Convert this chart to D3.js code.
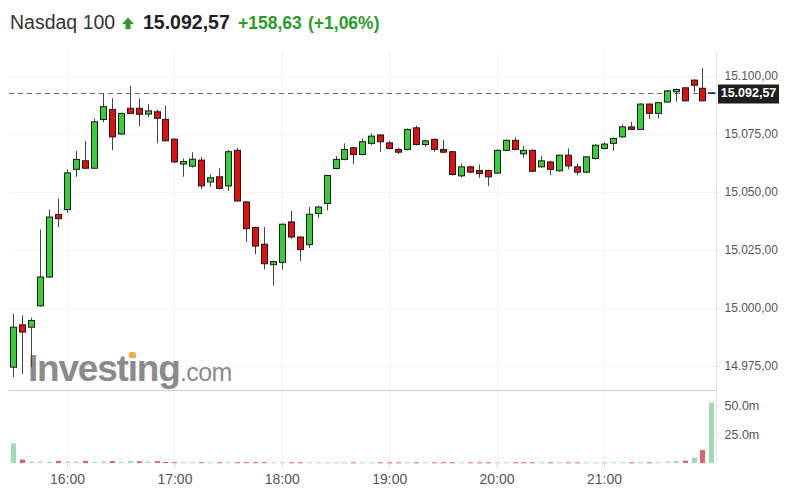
<!DOCTYPE html>
<html><head><meta charset="utf-8">
<script src="https://cdn.jsdelivr.net/npm/d3@7"></script>
<style>body{margin:0;background:#fff;} svg{display:block;font-family:Arial,"Liberation Sans",sans-serif;}</style>
</head><body>
<svg id="c" width="790" height="500"></svg>
<script>
// ---- data ----
const openP  = [14974.5,14992.7,14991.7,15000.9,15013.3,15040.2,15042.3,15059.6,15063.3,15060.1,15081.1,15085.4,15074.8,15085.9,15085.9,15083.4,15084.4,15081.1,15072.6,15061.9,15061.0,15063.6,15054.2,15056.4,15052.5,15067.8,15045.6,15034.6,15027.4,15018.6,15019.6,15037.0,15030.5,15027.2,15040.6,15044.9,15060.0,15063.9,15068.9,15066.0,15070.8,15074.4,15071.0,15068.2,15068.2,15077.5,15070.3,15072.5,15068.2,15067.2,15056.8,15060.7,15059.1,15059.1,15058.0,15067.8,15072.1,15066.3,15067.8,15060.7,15062.8,15059.0,15065.7,15060.7,15058.4,15064.3,15068.6,15070.8,15073.6,15077.9,15076.8,15087.7,15083.7,15088.6,15093.0,15094.7,15098.0,15094.5,15092.57];
const highP  = [14997.5,14996.8,14995.8,15033.7,15042.3,15047.1,15059.6,15067.6,15071.8,15081.5,15092.3,15090.2,15084.0,15095.5,15090.2,15087.6,15085.2,15087.0,15073.0,15064.3,15067.0,15065.0,15057.5,15060.0,15067.9,15068.9,15046.0,15035.0,15034.8,15020.3,15036.4,15041.7,15030.8,15043.4,15044.0,15057.3,15065.3,15070.8,15069.3,15072.9,15075.1,15074.8,15071.9,15068.9,15077.2,15078.5,15072.2,15072.9,15072.2,15067.5,15062.2,15061.2,15061.7,15059.5,15068.2,15072.5,15073.4,15069.6,15068.2,15065.3,15063.3,15066.0,15068.6,15062.2,15065.3,15070.4,15071.2,15073.3,15079.0,15080.1,15088.0,15088.0,15088.7,15093.7,15094.4,15095.0,15098.4,15103.3,15092.57];
const lowP   = [14970.2,14971.6,14974.5,15000.5,15012.8,15034.8,15040.9,15056.4,15059.8,15059.8,15079.8,15067.9,15074.5,15083.5,15078.2,15082.0,15070.8,15071.7,15062.5,15056.4,15060.4,15051.1,15052.1,15051.0,15050.3,15045.8,15028.4,15023.1,15016.6,15009.7,15016.5,15029.7,15020.2,15025.8,15038.7,15042.0,15059.6,15063.5,15061.9,15065.6,15070.0,15067.2,15068.2,15066.2,15067.8,15069.9,15069.3,15067.2,15066.6,15057.0,15056.1,15058.0,15056.0,15052.5,15057.6,15067.5,15067.8,15064.6,15058.4,15060.3,15057.1,15058.6,15059.7,15057.1,15058.0,15063.9,15068.2,15067.6,15073.2,15076.5,15076.5,15081.3,15081.6,15088.2,15088.7,15088.8,15092.8,15089.0,15092.57];
const closeP = [14991.7,14989.6,14994.6,15013.3,15039.1,15038.4,15058.1,15063.9,15060.1,15080.1,15086.6,15073.6,15083.7,15083.7,15083.3,15084.8,15081.6,15071.9,15062.8,15063.0,15064.0,15052.5,15056.0,15051.4,15067.2,15046.0,15034.1,15026.6,15019.0,15019.9,15036.0,15030.5,15025.1,15040.3,15043.4,15057.0,15063.9,15068.2,15066.0,15071.5,15073.9,15071.5,15068.6,15067.0,15076.8,15070.3,15071.9,15068.2,15067.0,15057.4,15060.7,15058.4,15057.8,15056.4,15067.8,15072.1,15068.2,15067.8,15058.8,15063.3,15059.6,15065.7,15061.1,15058.4,15065.0,15070.0,15070.5,15072.9,15077.9,15076.8,15087.7,15083.7,15088.3,15093.4,15094.0,15089.1,15095.8,15089.1,15092.57];
// volume in millions
const volumeM = [17,3,1.2,1.0,1.1,1.8,1.0,1.1,1.8,1.0,1.1,1.7,1.0,1.6,1.5,1.0,1.6,0.9,0.7,0.6,0.6,0.7,0.6,0.6,0.7,0.7,0.7,0.7,0.7,0.6,0.7,0.6,0.6,0.6,0.6,0.6,0.6,0.6,0.6,0.6,0.6,0.6,0.6,0.6,0.6,0.6,0.6,0.6,0.6,0.6,0.6,0.6,0.6,0.6,0.6,0.6,0.6,0.6,0.6,0.6,0.6,0.6,0.6,0.6,0.6,0.6,0.6,0.6,0.6,0.6,0.6,0.6,0.7,1.0,1.7,2.0,4.6,11.2,52];
const priceTicks = [14975,15000,15025,15050,15075,15100];
const volumeTicks = [25,50];
const timeTicks = ["16:00","17:00","18:00","19:00","20:00","21:00"];
const lastPrice = 15092.57;
const titleName = "Nasdaq 100", titlePrice = "15.092,57", titleChange = "+158,63", titlePct = "(+1,06%)";

// ---- setup ----
const svg = d3.select("#c");
const loc = d3.formatLocale({decimal: ",", thousands: ".", grouping: [3], currency: ["", ""]});
const fmt = loc.format(",.2f");
const parseT = d3.timeParse("%H:%M");
const times = openP.map((_, i) => new Date(1900, 0, 1, 15, 30 + 5 * i));
const x = d3.scaleTime().domain([times[0], times[times.length - 1]]).range([13.3, 711.4]);
const y = d3.scaleLinear().domain([14975, 15100]).range([366, 75.5]);
const vy = d3.scaleLinear().domain([0, 50]).range([463, 405]);
const L = 9, R = 716.5, TOP = 52, SEP = 390.5, VB = 463;
const GREEN = "#37cf37", RED = "#e30e0e";

// grid
const grid = svg.append("g");
grid.selectAll("line.h").data(priceTicks).join("line")
  .attr("x1", L).attr("x2", R).attr("y1", d => Math.round(y(d)) + 0.5).attr("y2", d => Math.round(y(d)) + 0.5)
  .attr("stroke", "#f3f3f3");
grid.selectAll("line.v").data(timeTicks).join("line")
  .attr("x1", d => Math.round(x(parseT(d))) + 0.5).attr("x2", d => Math.round(x(parseT(d))) + 0.5)
  .attr("y1", TOP).attr("y2", VB).attr("stroke", "#f3f3f3");

// watermark
const wm = svg.append("g");
const wt = wm.append("text").attr("x", 28).attr("y", 381).attr("font-size", 37).attr("font-weight", "bold")
  .attr("letter-spacing", -1.2).attr("fill", "#8b8b8b").text("Investing");
wm.append("text").attr("x", 180).attr("y", 381).attr("font-size", 25).attr("letter-spacing", -0.6)
  .attr("fill", "#8b8b8b").text(".com");
try {
  const ext = wt.node().getExtentOfChar(6);
  wm.append("rect").attr("x", ext.x + ext.width / 2 - 3.2).attr("y", 352).attr("width", 6.5).attr("height", 6)
    .attr("rx", 1.5).attr("fill", "#f4a640");
} catch (e) {}

// frame lines
svg.append("line").attr("x1", L).attr("x2", R).attr("y1", SEP).attr("y2", SEP).attr("stroke", "#cfcfcf");
svg.append("line").attr("x1", R).attr("x2", R).attr("y1", TOP).attr("y2", VB).attr("stroke", "#e2e2e2");

// price axis
const pa = svg.append("g").attr("transform", `translate(${R},0)`);
pa.call(d3.axisRight(y).tickValues(priceTicks).tickSize(4).tickPadding(4).tickFormat(fmt));
pa.select(".domain").remove();
pa.selectAll(".tick line").attr("stroke", "#e2e2e2");
pa.selectAll(".tick text").attr("font-size", 12).attr("fill", "#555").attr("font-family", "Arial, 'Liberation Sans', sans-serif");

// volume axis
const va = svg.append("g").attr("transform", `translate(${R},0)`);
va.call(d3.axisRight(vy).tickValues(volumeTicks).tickSize(4).tickPadding(4).tickFormat(d => d.toFixed(1) + "m"));
va.select(".domain").remove();
va.selectAll(".tick line").attr("stroke", "#e2e2e2");
va.selectAll(".tick text").attr("font-size", 12.5).attr("fill", "#555").attr("font-family", "Arial, 'Liberation Sans', sans-serif");

// time axis
const ta = svg.append("g").attr("transform", `translate(0,${VB})`);
ta.call(d3.axisBottom(x).tickValues(timeTicks.map(parseT)).tickSize(5).tickPadding(6).tickFormat(d3.timeFormat("%H:%M")));
ta.select(".domain").remove();
ta.selectAll(".tick line").attr("stroke", "#dcdcdc");
ta.selectAll(".tick text").attr("font-size", 14).attr("fill", "#555").attr("font-family", "Arial, 'Liberation Sans', sans-serif");

// last price dashed line
svg.append("line").attr("x1", L).attr("x2", R).attr("y1", Math.round(y(lastPrice)) + 0.5).attr("y2", Math.round(y(lastPrice)) + 0.5)
  .attr("stroke", "#6a6a6a").attr("stroke-dasharray", "5,4");

// volume bars
svg.append("g").selectAll("rect").data(volumeM).join("rect")
  .attr("x", (d, i) => Math.round(x(times[i])) - 2)
  .attr("width", 5)
  .attr("y", d => vy(d))
  .attr("height", d => Math.max(1, VB - vy(d)))
  .attr("fill", (d, i) => closeP[i] >= (i ? closeP[i - 1] : openP[i]) ? "#a2d9b2" : "#e1606b");

// candles
const idx = d3.range(openP.length);
const cg = svg.append("g");
cg.selectAll("line").data(idx).join("line")
  .attr("x1", i => Math.round(x(times[i])) + 0.5).attr("x2", i => Math.round(x(times[i])) + 0.5)
  .attr("y1", i => y(highP[i])).attr("y2", i => y(lowP[i]))
  .attr("stroke", "#444").attr("stroke-width", 1);
cg.selectAll("rect").data(idx).join("rect")
  .attr("x", i => Math.round(x(times[i])) - 2.5)
  .attr("width", 6)
  .attr("y", i => y(Math.max(openP[i], closeP[i])))
  .attr("height", i => Math.max(0.5, Math.abs(y(openP[i]) - y(closeP[i]))))
  .attr("fill", i => closeP[i] >= openP[i] ? GREEN : RED)
  .attr("stroke", "#1a1a1a").attr("stroke-width", 1);

// last price label
const lp = svg.append("g");
lp.append("rect").attr("x", 718).attr("y", 84.5).attr("width", 61).attr("height", 19).attr("fill", "#1e1e1e");
lp.append("text").attr("x", 748.5).attr("y", y(lastPrice)).attr("dy", "0.36em").attr("text-anchor", "middle")
  .attr("font-size", 12.5).attr("font-weight", "bold").attr("fill", "#fff").text(fmt(lastPrice));

// title
const tg = svg.append("g");
tg.append("text").attr("x", 10).attr("y", 29).attr("font-size", 19.5).attr("fill", "#333").text(titleName);
tg.append("path").attr("d", "M128,17.5 L134,24 L130.5,24 L130.5,29 L125.5,29 L125.5,24 L122,24 Z").attr("fill", "#2b9c2b");
tg.append("text").attr("x", 143).attr("y", 29).attr("font-size", 19.5).attr("font-weight", "bold").attr("fill", "#222").text(titlePrice);
tg.append("text").attr("x", 238).attr("y", 29).attr("font-size", 17.5).attr("font-weight", "bold").attr("fill", "#2b9c2b").text(titleChange);
tg.append("text").attr("x", 308).attr("y", 29).attr("font-size", 17.5).attr("font-weight", "bold").attr("fill", "#2b9c2b").text(titlePct);
</script>
</body></html>
